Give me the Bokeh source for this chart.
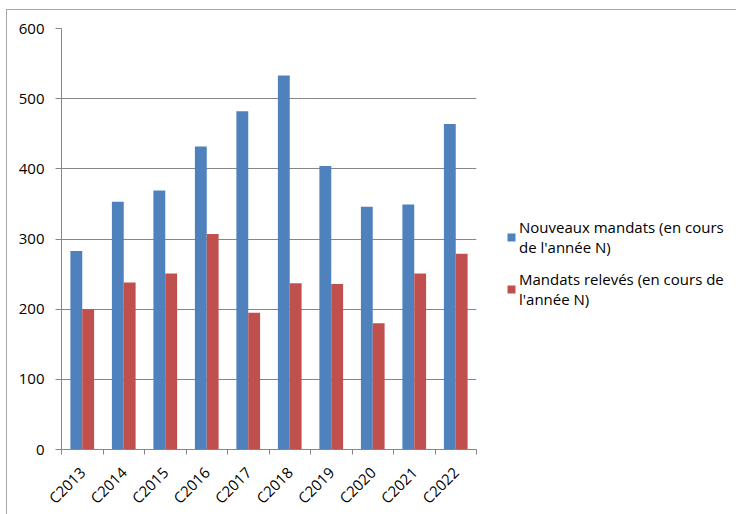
import math
from bokeh.plotting import figure
from bokeh.models import Range1d, FixedTicker, Legend, LegendItem, ColumnDataSource
from bokeh.transform import dodge
from bokeh.embed import file_html
from bokeh.resources import INLINE

categories = ["C2013", "C2014", "C2015", "C2016", "C2017",
              "C2018", "C2019", "C2020", "C2021", "C2022"]
nouveaux = [283, 353, 369, 432, 482, 533, 404, 346, 349, 464]
releves = [200, 238, 251, 307, 195, 237, 236, 180, 251, 279]
y_ticks = [0, 100, 200, 300, 400, 500, 600]
series_names = ["Nouveaux mandats (en cours\nde l'année N)",
                "Mandats relevés (en cours de\nl'année N)"]

FONT = "Open Sans"
GRAY = "#868686"
BLUE = "#4F81BD"
RED = "#C0504D"

pos = [i + 0.5 for i in range(len(categories))]
src = ColumnDataSource(dict(x=pos, cat=categories, a=nouveaux, b=releves))

p = figure(frame_width=415, frame_height=421, x_range=Range1d(0, len(categories)),
           y_range=Range1d(0, 600), output_backend="svg", toolbar_location=None,
           min_border_left=54, min_border_top=18, min_border_right=250,
           min_border_bottom=56)
p.styles = {"margin-left": "6px", "margin-top": "9px",
            "border-left": "1px solid #a6a6a6", "border-top": "1px solid #a6a6a6"}

bar_w = 1 / 3.5
r1 = p.vbar(x=dodge("x", -bar_w / 2), top="a", width=bar_w, source=src,
            fill_color=BLUE, line_color=None)
r2 = p.vbar(x=dodge("x", bar_w / 2), top="b", width=bar_w, source=src,
            fill_color=RED, line_color=None)

p.outline_line_color = None
p.xgrid.visible = False
p.ygrid.ticker = FixedTicker(ticks=y_ticks)
p.ygrid.grid_line_color = GRAY

xa = p.xaxis[0]
xa.ticker = FixedTicker(ticks=pos, minor_ticks=list(range(len(categories) + 1)))
xa.major_label_overrides = {x: c for x, c in zip(pos, categories)}
xa.major_tick_line_color = None
xa.major_tick_out = 5
xa.major_tick_in = 0
xa.minor_tick_line_color = GRAY
xa.minor_tick_out = 5
xa.minor_tick_in = 0
xa.major_label_orientation = math.pi / 4
xa.major_label_standoff = 15
xa.axis_line_color = GRAY

ya = p.yaxis[0]
ya.ticker = FixedTicker(ticks=y_ticks)
ya.minor_tick_line_color = None
ya.major_tick_out = 6
ya.major_tick_in = 0
ya.major_tick_line_color = GRAY
ya.axis_line_color = GRAY
ya.major_label_standoff = 11

for ax in (xa, ya):
    ax.major_label_text_font = FONT
    ax.major_label_text_font_size = "15px"
    ax.major_label_text_color = "#000000"

legend = Legend(items=[LegendItem(label=series_names[0], renderers=[r1]),
                       LegendItem(label=series_names[1], renderers=[r2])],
                location=(30, 140), margin=0, padding=0, spacing=12,
                glyph_width=10, glyph_height=10, label_standoff=3,
                label_text_font=FONT, label_text_font_size="15px",
                label_text_color="#000000",
                label_text_line_height=1.3,
                border_line_color=None, background_fill_alpha=0)
p.add_layout(legend, "right")

open("out.html", "w").write(file_html(p, INLINE))
